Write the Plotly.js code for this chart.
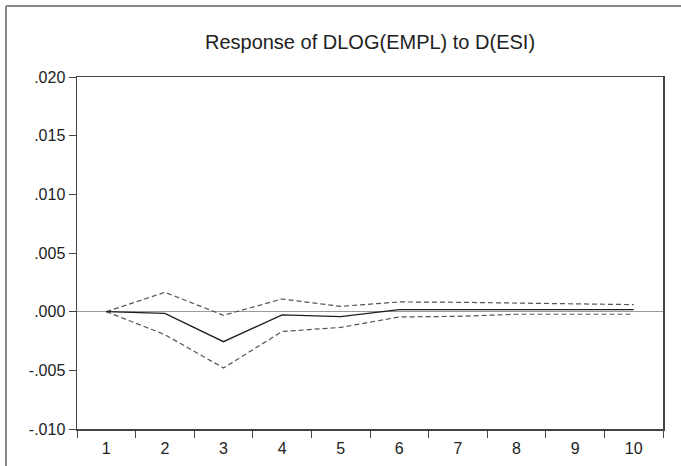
<!DOCTYPE html>
<html>
<head>
<meta charset="utf-8">
<script src="https://cdn.plot.ly/plotly-3.0.1.min.js"></script>
<style>
html,body{margin:0;padding:0;background:#fff;}
#chart{width:681px;height:466px;}
</style>
</head>
<body>
<div id="chart"></div>
<script>
// Periods (horizontal categories)
const periods = ['1','2','3','4','5','6','7','8','9','10'];
// Impulse response of DLOG(EMPL) to D(ESI)
const response = [0.0000, -0.00014, -0.00256, -0.00027, -0.00043, 0.00017, 0.00018, 0.00017, 0.00017, 0.00017];
// +/- 2 S.E. bands
const upperBand = [0.0000, 0.00165, -0.00031, 0.00108, 0.00045, 0.00083, 0.00080, 0.00074, 0.00068, 0.00060];
const lowerBand = [0.0000, -0.00196, -0.00480, -0.00169, -0.00134, -0.00045, -0.00040, -0.00022, -0.00022, -0.00022];
// Y tick labels
const yTickVals = [-0.010, -0.005, 0.000, 0.005, 0.010, 0.015, 0.020];
const yTickText = ['-.010', '-.005', '.000', '.005', '.010', '.015', '.020'];
const titleText = 'Response of DLOG(EMPL) to D(ESI)';

const traces = [
  {x: periods, y: upperBand, type: 'scatter', mode: 'lines',
   line: {color: '#555555', width: 1.2, dash: '5px,3px'}, hoverinfo: 'skip'},
  {x: periods, y: lowerBand, type: 'scatter', mode: 'lines',
   line: {color: '#555555', width: 1.2, dash: '5px,3px'}, hoverinfo: 'skip'},
  {x: periods, y: response, type: 'scatter', mode: 'lines',
   line: {color: '#1e1e1e', width: 1.3}, hoverinfo: 'skip'}
];

const layout = {
  width: 681, height: 466,
  margin: {l: 77, r: 18, t: 77, b: 37, pad: 0},
  paper_bgcolor: '#ffffff', plot_bgcolor: '#ffffff',
  showlegend: false,
  font: {family: 'Liberation Sans, Arial, sans-serif', size: 16, color: '#222222'},
  title: {text: titleText, x: 0.5, xref: 'paper', xanchor: 'center',
          y: 1 - 42/466, yref: 'container', yanchor: 'middle',
          font: {family: 'Liberation Sans, Arial, sans-serif', size: 20, color: '#222222'}},
  xaxis: {
    type: 'category', tickson: 'boundaries', range: [-0.5, 9.5],
    showgrid: false, zeroline: false,
    showline: true, linecolor: '#444444', linewidth: 1.5, mirror: true,
    ticks: 'outside', ticklen: 7, tickwidth: 1, tickcolor: '#444444',
    ticklabelstandoff: 4,
    tickfont: {size: 16}, fixedrange: true
  },
  yaxis: {
    range: [-0.010, 0.020], tickvals: yTickVals, ticktext: yTickText,
    showgrid: false,
    zeroline: true, zerolinecolor: '#999999', zerolinewidth: 1,
    showline: true, linecolor: '#444444', linewidth: 1.5, mirror: true,
    ticks: 'outside', ticklen: 7, tickwidth: 1, tickcolor: '#444444',
    tickfont: {size: 16}, fixedrange: true
  },
  shapes: [
    {type: 'line', xref: 'paper', yref: 'paper',
     x0: (6 - 77)/586, x1: (6 - 77)/586, y0: 1 + (77 - 6)/352, y1: -37/352,
     line: {color: '#888888', width: 2}},
    {type: 'line', xref: 'paper', yref: 'paper',
     x0: (6 - 77)/586, x1: (681 - 77)/586, y0: 1 + (77 - 6)/352, y1: 1 + (77 - 6)/352,
     line: {color: '#888888', width: 2}}
  ]
};

Plotly.newPlot('chart', traces, layout, {displayModeBar: false, staticPlot: true});
</script>
</body>
</html>
